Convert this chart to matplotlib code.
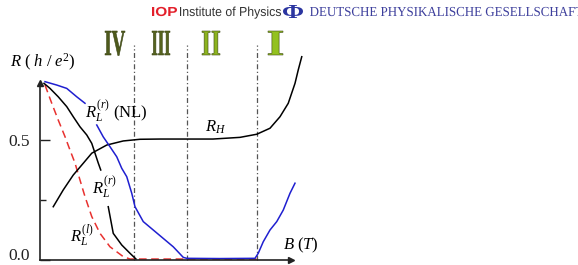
import matplotlib
matplotlib.use("Agg")
import matplotlib.pyplot as plt
from matplotlib.textpath import TextPath
from matplotlib.patches import PathPatch
from matplotlib.font_manager import FontProperties
from matplotlib.transforms import Affine2D, ScaledTranslation

# B in arbitrary field units, R in units of h/e^2
rl_r_b1 = [0.16, 0.40, 0.73, 1.07, 1.33, 1.60, 1.87, 2.07, 2.20, 2.33, 2.43]
rl_r_r1 = [0.736, 0.715, 0.680, 0.639, 0.597, 0.555, 0.521, 0.486, 0.445, 0.404, 0.375]
rl_r_b2 = [2.73, 2.93, 3.27, 3.60, 3.84]
rl_r_r2 = [0.222, 0.111, 0.0625, 0.028, 0.004]

nl_b1 = [0.20, 0.67, 1.07, 1.47, 1.80]
nl_r1 = [0.743, 0.729, 0.715, 0.680, 0.653]
nl_b2 = [2.27, 2.53, 2.80, 3.07, 3.27, 3.47, 3.67, 3.80, 4.13, 4.53, 4.93, 5.33,
         5.73, 5.87, 7.20, 8.60, 8.73, 8.93, 9.20, 9.47, 9.73, 10.0, 10.2]
nl_r2 = [0.5625, 0.513, 0.472, 0.430, 0.382, 0.347, 0.278, 0.222, 0.160, 0.125,
         0.090, 0.055, 0.011, 0.007, 0.006, 0.007, 0.028, 0.076, 0.125, 0.160,
         0.208, 0.278, 0.320]

rl_l_b = [0.20, 0.47, 0.73, 1.0, 1.2, 1.4, 1.6, 1.8, 2.07, 2.4, 2.8, 3.33, 3.6, 8.7]
rl_l_r = [0.729, 0.653, 0.583, 0.514, 0.458, 0.404, 0.333, 0.264, 0.181, 0.111,
          0.055, 0.014, 0.004, 0.004]

rh_b = [0.53, 0.93, 1.33, 1.73, 2.07, 2.67, 3.33, 4.0, 4.8, 6.92, 8.0, 8.67,
        9.2, 9.6, 9.93, 10.2, 10.33, 10.47]
rh_r = [0.222, 0.292, 0.354, 0.403, 0.445, 0.479, 0.496, 0.503, 0.504, 0.504,
        0.511, 0.524, 0.549, 0.597, 0.653, 0.736, 0.792, 0.847]

dividers = [3.76, 5.87, 8.67]
regions = ["IV", "III", "II", "I"]
region_colors = ["#4e5a1c", "#56631f", "#8cb31e", "#93c11f"]
region_x = [(105, 125), (152, 170), (202, 220), (268, 283)]

W, H = 578, 265
serif = "Liberation Serif"
plt.rcParams["mathtext.fontset"] = "custom"
plt.rcParams["mathtext.rm"] = serif
plt.rcParams["mathtext.it"] = serif + ":italic"
plt.rcParams["font.family"] = serif

fig = plt.figure(figsize=(W / 100, H / 100), dpi=100)
ax = fig.add_axes([40 / W, 5 / H, 251 / W, 177 / H])
ax.set_xlim(0, 10.04)
ax.set_ylim(0, 0.7375)
for s in ["top", "right"]:
    ax.spines[s].set_visible(False)
for s in ["left", "bottom"]:
    ax.spines[s].set_linewidth(1.2)
    ax.spines[s].set_color("#222222")
ax.set_xticks([])
ax.set_yticks([0, 0.5], ["0.0", "0.5"])
ax.set_yticks([0.25], minor=True)
ax.tick_params(axis="y", which="major", direction="in", length=7, width=1.0,
               pad=7, labelsize=12.5, colors="#222222")
ax.tick_params(axis="y", which="minor", direction="in", length=4.5, width=1.0,
               colors="#222222")
# nudge the bottom tick label up so it stays inside the picture
lab0 = ax.get_yticklabels()[0]
lab0.set_transform(lab0.get_transform() + ScaledTranslation(0, 4 / 72, fig.dpi_scale_trans))
ax.plot(1, 0, ">", color="#222222", ms=5, transform=ax.get_yaxis_transform(), clip_on=False)
ax.plot(0, 1, "^", color="#222222", ms=5, transform=ax.get_xaxis_transform(), clip_on=False)

ax.vlines(dividers, 0, 0.896, colors="#555555", linestyles=(0, (4, 2, 1, 2)),
          lw=0.9, clip_on=False)

lw = 1.1
ax.plot(rl_l_b, rl_l_r, color="#e8312f", lw=lw, ls=(0, (5, 3)), clip_on=False)
ax.plot(rh_b, rh_r, color="black", lw=lw, clip_on=False)
ax.plot(rl_r_b1, rl_r_r1, color="black", lw=lw, clip_on=False)
ax.plot(rl_r_b2, rl_r_r2, color="black", lw=lw, clip_on=False)
ax.plot(nl_b1, nl_r1, color="#1f1fd0", lw=lw, clip_on=False)
ax.plot(nl_b2, nl_r2, color="#1f1fd0", lw=lw, clip_on=False)

fs = 12
ax.text(1.8, 0.62, r"$R_L^{(r)}$ (NL)", fontsize=fs, va="center")
ax.text(6.6, 0.554, r"$R_H$", fontsize=fs, va="center")
ax.text(2.08, 0.304, r"$R_L^{(r)}$", fontsize=fs, va="center")
ax.text(1.2, 0.10, r"$R_L^{(l)}$", fontsize=fs, va="center")
ax.text(9.72, 0.0625, r"$B\ (T)$", fontsize=fs, va="center")
ax.text(-1.2, 0.825, r"$R\ (\ h\ /\ e^2)$", fontsize=fs, va="center", clip_on=False)


def boxed_text(s, x0, x1, base, cap, color, edge=None, lw=0, **fp):
    # draw s squeezed into [x0, x1] px with given cap height, baseline in px from top
    prop = FontProperties(**fp)
    tp = TextPath((0, 0), s, size=100, prop=prop)
    ext = tp.get_extents()
    caph = TextPath((0, 0), "H", size=100, prop=prop).get_extents().height
    sx = (x1 - x0) / ext.width
    sy = cap / caph
    tr = Affine2D().translate(-ext.x0, 0).scale(sx, sy).translate(x0, H - base)
    fig.add_artist(PathPatch(tp, transform=tr, fc=color,
                             ec=edge if edge else color, lw=lw))


for lab, col, (xa, xb) in zip(regions, region_colors, region_x):
    boxed_text(lab, xa, xb, 55, 24, col, edge="#3a4414", lw=0.4,
               family=serif, weight="bold")

boxed_text("IOP", 152, 177, 16, 9, "#e3202b", family="Liberation Sans", weight="bold")
boxed_text("Institute of Physics", 180, 281, 16, 9, "#333333", family="Liberation Sans")
boxed_text("Φ", 283, 303, 18, 13, "#2b35a0", family=serif, weight="bold")
boxed_text("DEUTSCHE PHYSIKALISCHE GESELLSCHAFT", 310, 583, 16, 9, "#3d3f9c",
           family=serif)

fig.savefig("out.png", dpi=100)
